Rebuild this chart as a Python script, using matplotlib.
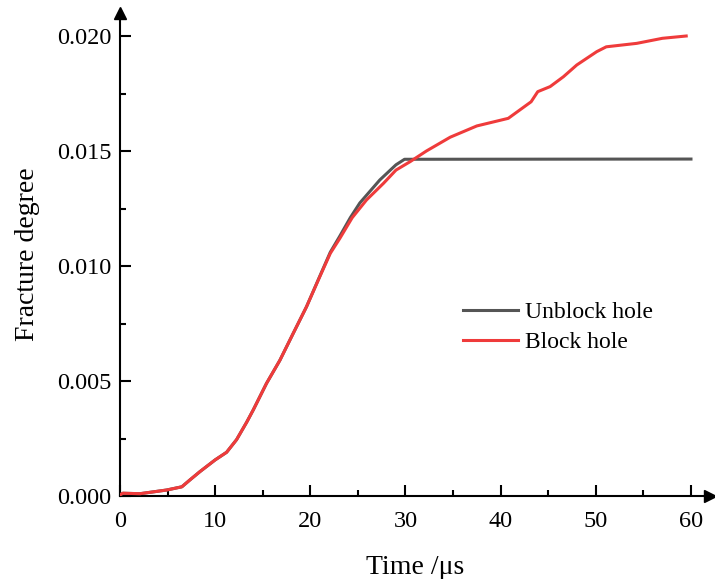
import matplotlib.pyplot as plt
import numpy as np

# 시간 (μs) / fracture degree
t_block = [0, 0.3, 2.1, 4.9, 6.5, 7.35, 8.4, 10, 11.2, 12.25, 13.3, 14, 15.4, 16.8,
           18.2, 19.6, 21, 22.1, 23.1, 24.4, 25.9, 27.7, 29, 30.5, 32.2, 34.7,
           37.5, 40.8, 43.2, 43.9, 45.2, 46.6, 48, 50.1, 51.1, 54.3, 57, 59.5]
v_block = [0.00005, 0.00012, 0.0001, 0.00026, 0.0004, 0.0007, 0.00106, 0.00157, 0.0019,
           0.00245, 0.0032, 0.00374, 0.0049, 0.0059, 0.00707, 0.00823, 0.00954, 0.01055,
           0.0112, 0.0121, 0.01287, 0.0136, 0.01417, 0.01454, 0.0150, 0.0156,
           0.01609, 0.01642, 0.01714, 0.01758, 0.0178, 0.01823, 0.01874, 0.01932,
           0.01953, 0.01968, 0.0199, 0.0200]

t_unblock = [0, 0.3, 2.1, 4.9, 6.5, 7.35, 8.4, 10, 11.2, 12.25, 13.3, 14, 15.4, 16.8,
             18.2, 19.6, 21, 22.1, 23.1, 24.2, 25.2, 27.3, 29, 29.9, 60]
v_unblock = [0.00005, 0.00012, 0.0001, 0.00026, 0.0004, 0.0007, 0.00106, 0.00157, 0.0019,
             0.00245, 0.0032, 0.00374, 0.0049, 0.0059, 0.00707, 0.00823, 0.00956, 0.0106,
             0.0113, 0.0121, 0.01274, 0.01374, 0.0144, 0.01464, 0.01465]

x_ticks = [0, 10, 20, 30, 40, 50, 60]
y_ticks = [0.000, 0.005, 0.010, 0.015, 0.020]

plt.rcParams['font.family'] = ['Liberation Serif', 'DejaVu Serif']

fig = plt.figure(figsize=(7.15, 5.79), dpi=100)
ax = fig.add_axes([120 / 715, 83 / 579, 590 / 715, 483 / 579])

ax.plot(t_unblock, v_unblock, color='#555555', lw=2.2, label='Unblock hole', zorder=3)
ax.plot(t_block, v_block, color='#ef3b3b', lw=2.2, label='Block hole', zorder=4)

ax.set_xlim(0, 62)
ax.set_ylim(0, 0.021)
ax.set_xticks(x_ticks)
ax.set_yticks(y_ticks)
ax.set_xticks(np.arange(5, 60, 10), minor=True)
ax.set_yticks([0.0025, 0.0075, 0.0125, 0.0175], minor=True)
ax.set_yticklabels(['%.3f' % v for v in y_ticks])

for s in ['top', 'right']:
    ax.spines[s].set_visible(False)
for s in ['left', 'bottom']:
    ax.spines[s].set_linewidth(1.5)

ax.tick_params(which='major', direction='in', length=8, width=1.5, labelsize=17.5, pad=6)
ax.tick_params(axis='x', which='major', pad=11)
ax.tick_params(which='minor', direction='in', length=4, width=1.5)

# 축 끝 화살표
ax.plot(1, 0, '>k', ms=9, transform=ax.transAxes, clip_on=False)
ax.plot(0, 1, '^k', ms=9, transform=ax.transAxes, clip_on=False)

ax.set_xlabel('Time /μs', fontsize=20, labelpad=16)
ax.set_ylabel('Fracture degree', fontsize=20, labelpad=12)

ax.legend(loc='upper left', bbox_to_anchor=(442 / 715, 1 - 280 / 579),
          bbox_transform=fig.transFigure, frameon=False, fontsize=17,
          handlelength=2.3, handletextpad=0.3, labelspacing=0.38)

fig.savefig('out.png', dpi=100)
